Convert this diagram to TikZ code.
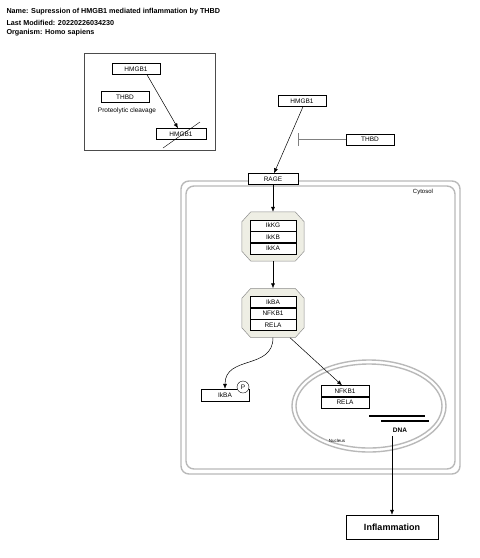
\documentclass[tikz,border=0pt]{standalone}
\usepackage{fontspec}
\setmainfont{Liberation Sans}
\usetikzlibrary{arrows.meta,positioning}
\definecolor{cmpfill}{RGB}{238,238,228}
\definecolor{cmpline}{RGB}{140,140,140}
\definecolor{wall}{RGB}{185,185,185}
% octagon round a complex node
\newcommand{\cpxoutline}[1]{%
  \draw[cmpline, fill=cmpfill, line width=0.5pt]
    ([xshift=9pt]#1.north west) -- ([xshift=-9pt]#1.north east)
    -- ([yshift=-10pt]#1.north east) -- ([yshift=10pt]#1.south east)
    -- ([xshift=-9pt]#1.south east) -- ([xshift=9pt]#1.south west)
    -- ([yshift=10pt]#1.south west) -- ([yshift=-10pt]#1.north west) -- cycle;}

\begin{document}
\begin{tikzpicture}[x=1pt, y=-1pt,
  every node/.style={font=\fontsize{6.5}{7}\selectfont},
  gene/.style={draw, fill=white, minimum width=48pt, minimum height=11pt, inner sep=0pt},
  member/.style={draw, fill=white, minimum width=46pt, minimum height=11pt, inner sep=0pt,
    line width=0.4pt},
  cpx/.style={minimum width=62pt, minimum height=49pt, inner sep=0pt},
  arrow/.style={-{Latex[length=5pt, width=4pt]}, line width=0.5pt},
  inhibit/.style={-{Bar[width=13pt]}, draw=gray, line width=0.6pt},
  wall/.style={draw=wall, line width=1.4pt, rounded corners=8pt},
  title/.style={anchor=west, font=\bfseries\fontsize{7.2}{8}\selectfont}
]
\useasboundingbox (0,0) rectangle (480,558);

\node[title] (name) at (3,12) {Name: Supression of HMGB1 mediated inflammation by THBD};
\node[title] (modified) at (3,23) {Last Modified: 20220226034230};
\node[title] (organism) at (3,33) {Organism: Homo sapiens};

% cleavage group
\draw[black!70, line width=0.5pt] (84,53) rectangle (215,150);
\node[gene] (hmgbA) at (136,69) {HMGB1};
\node[gene] (thbdA) at (125,97) {THBD};
\node (cleave) at (127,111) {Proteolytic cleavage};
\node[gene, minimum width=50pt] (hmgbB) at (181,134) {HMGB1};
\draw[arrow] ([xshift=11pt]hmgbA.south) -- ([xshift=-3pt]hmgbB.north);
\draw[line width=0.4pt] ([shift={(-18,14)}]hmgbB.center) -- ([shift={(19,-12)}]hmgbB.center);

% cytosol
\draw[wall] (181,181) rectangle (460,474);
\draw[wall] (186,186) rectangle (455,469);
\node[font=\fontsize{6}{7}\selectfont] (cytosol) at (423,192) {Cytosol};

% nucleus
\draw[wall, rounded corners=0pt] (369,406) ellipse [x radius=77, y radius=46];
\draw[wall, rounded corners=0pt] (369,406) ellipse [x radius=73, y radius=42];
\node[font=\fontsize{4.5}{5}\selectfont] (nucleus) at (337,441) {Nucleus};

\node[gene] (hmgbC) at (302,101) {HMGB1};
\node[gene] (thbdB) at (370,139.5) {THBD};
\coordinate (block) at (298,139.5);
\node[gene, minimum width=50pt] (rage) at (273,179) {RAGE};
\draw[arrow] ([xshift=1pt]hmgbC.south) -- ([xshift=1pt]rage.north);
\draw[inhibit] (thbdB) -- (block);

% IKK complex
\node[cpx] (cpxA) at (273,236.5) {};
\cpxoutline{cpxA}
\node[member] (ikkg) at (273,225.5) {IkKG};
\node[member, below=0pt of ikkg] (ikkb) {IkKB};
\node[member, below=0pt of ikkb] (ikka) {IkKA};

% NFkB complex
\node[cpx] (cpxB) at (273,313) {};
\cpxoutline{cpxB}
\node[member] (ikba) at (273,302) {IkBA};
\node[member, below=0pt of ikba] (nfkbA) {NFKB1};
\node[member, below=0pt of nfkbA] (relaA) {RELA};

\draw[arrow] (rage) -- (cpxA);
\draw[arrow] (cpxA) -- (cpxB);

\node[gene, minimum height=12pt] (ikbaP) at (225,395) {IkBA};
\node[draw, circle, fill=white, minimum size=12pt, inner sep=0pt] (phos) at (243,387) {P};
\draw[arrow] (cpxB.south) .. controls (273,370) and (225,355) .. (ikbaP.north);

\node[gene] (nfkbB) at (345,391) {NFKB1};
\node[gene, below=0pt of nfkbB] (relaB) {RELA};
\draw[arrow] ([xshift=17pt]cpxB.south) -- ([xshift=-3pt]nfkbB.north);

% DNA
\draw[line width=1.1pt] (369,416) coordinate (dnaA) -- (425,416);
\draw[line width=1.1pt] (381,421) coordinate (dnaB) -- (429,421);
\node[font=\bfseries\fontsize{6.5}{7}\selectfont] (dna) at (400,430) {DNA};

\node[draw, fill=white, minimum width=92pt, minimum height=24pt, inner sep=0pt,
  font=\bfseries\fontsize{9}{10}\selectfont] (inflam) at (392,527) {Inflammation};
\draw[arrow] (dna.south -| inflam.north) -- (inflam.north);
\end{tikzpicture}
\end{document}
